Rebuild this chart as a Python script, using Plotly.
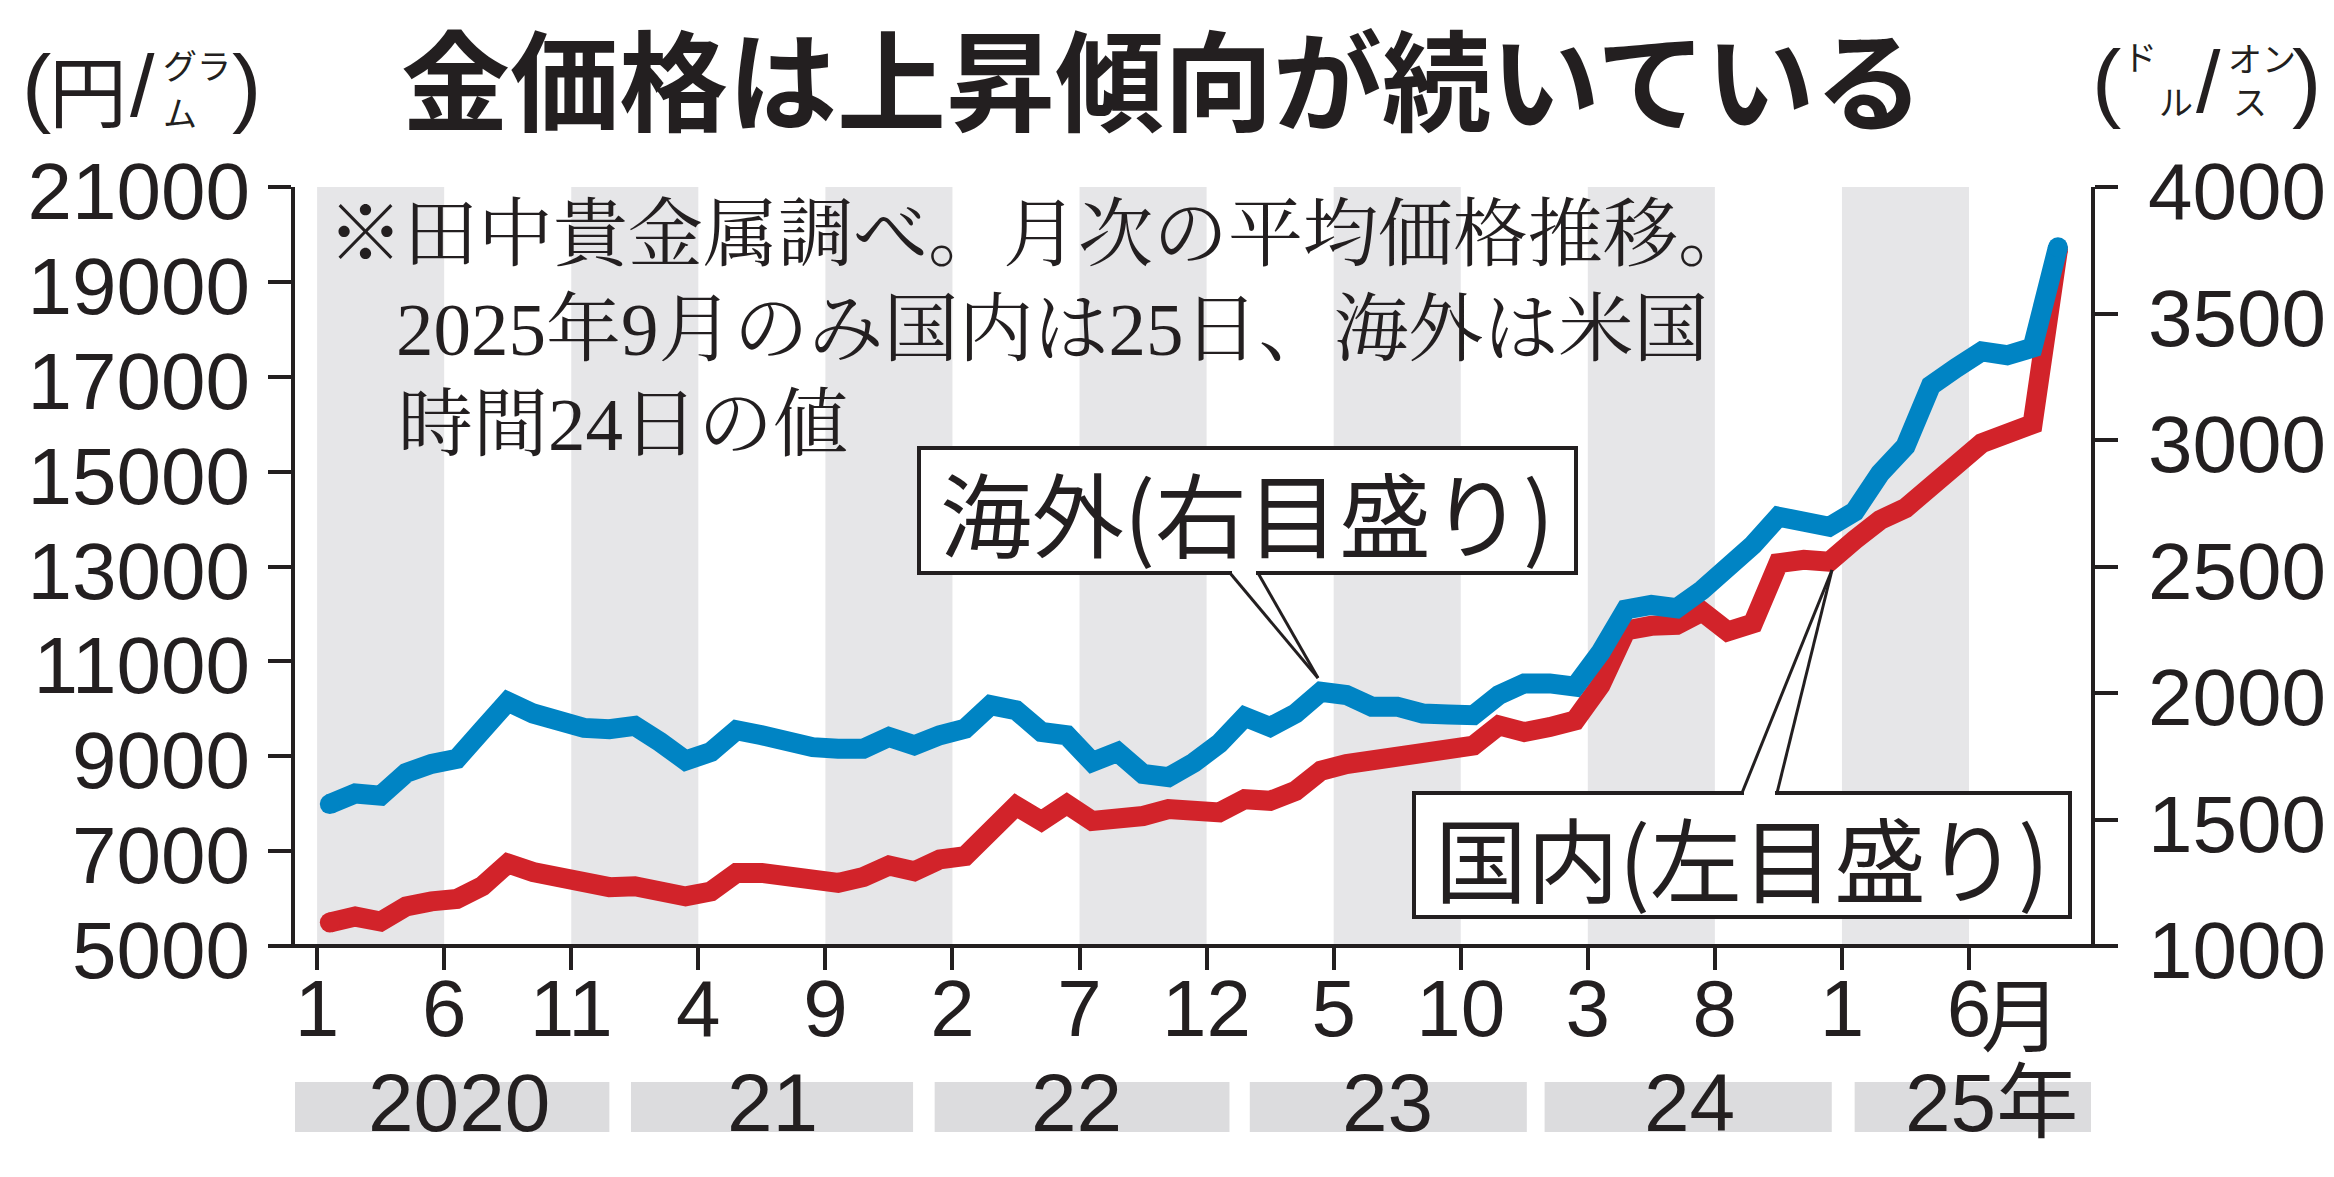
import plotly.graph_objects as go

# 月次平均価格（2020年1月〜2025年9月）
months = [f"{y}-{m:02d}" for y in range(2020, 2026) for m in range(1, 13)][:69]

domestic = [  # 国内 円/グラム
    5495, 5620, 5515, 5835, 5940, 5990, 6260, 6740, 6560, 6470, 6330, 6240,
    6260, 6175, 6045, 6150, 6540, 6540, 6435, 6330, 6330, 6455, 6695, 6575,
    6825, 6895, 7460, 7955, 7635, 7990, 7635, 7670, 7740, 7885, 7900, 7815,
    8095, 8060, 8270, 8695, 8835, 8910, 8910, 9015, 9155, 9225, 9650, 9510,
    9615, 9755, 10500, 11650, 11750, 11770, 12050, 11630, 11800, 13070, 13140, 13100,
    13560, 13980, 14230, 14750, 15140, 15600, 15800, 16000, 19680,
]
overseas = [  # 海外 ドル/オンス
    1561, 1603, 1594, 1684, 1720, 1740, 1853, 1966, 1919, 1893, 1862, 1857,
    1870, 1806, 1733, 1767, 1853, 1833, 1806, 1786, 1780, 1780, 1826, 1793,
    1833, 1859, 1952, 1932, 1846, 1833, 1727, 1767, 1680, 1667, 1725, 1800,
    1906, 1866, 1919, 2005, 1992, 1946, 1946, 1919, 1915, 1912, 1992, 2038,
    2038, 2025, 2160, 2330, 2348, 2335, 2407, 2486, 2585, 2697, 2671, 2657,
    2717, 2868, 2975, 3215, 3285, 3350, 3335, 3365, 3762,
]

month_ticks = ["1", "6", "11", "4", "9", "2", "7", "12", "5", "10", "3", "8", "1", "6"]
year_labels = ["2020", "21", "22", "23", "24", "25年"]
yen_ticks = list(range(5000, 21001, 2000))
usd_ticks = list(range(1000, 4001, 500))

# ページ本文の余白(8px)を差し引いた図のサイズ
OFF = 8
W, H = 2334 - 2 * OFF, 1177 - 2 * OFF - 6
L, R, T, B = 295 - OFF, 2091 - OFF, 187 - OFF, 946 - OFF
INK = "#231f20"
BLUE = "#0084c4"
RED = "#d2232a"
NUM = "Liberation Sans, Arial, Noto Sans CJK JP"
GOTH = "Noto Sans CJK JP"
MIN = "Liberation Serif, Noto Serif CJK JP, Noto Sans CJK JP"


def px(x):
    return (x - OFF - L) / (R - L)


def py(y):
    return (B - (y - OFF)) / (B - T)


x = [i + 0.5 for i in range(len(months))]
caps = [20] + [0] * (len(months) - 2) + [20]

fig = go.Figure()
fig.add_trace(go.Scatter(
    x=x, y=domestic, mode="lines+markers", name="国内",
    line=dict(color=RED, width=20),
    marker=dict(size=caps, color=RED, opacity=1, line=dict(width=0)),
))
fig.add_trace(go.Scatter(
    x=x, y=overseas, mode="lines+markers", name="海外", yaxis="y2",
    line=dict(color=BLUE, width=20),
    marker=dict(size=caps, color=BLUE, opacity=1, line=dict(width=0)),
))

shapes = []
# 縦の網掛け（5カ月ごと）
for k in range(0, 65, 10):
    shapes.append(dict(type="rect", xref="x", yref="paper", x0=k, x1=k + 5, y0=0, y1=1,
                       fillcolor="#e6e6e8", line=dict(width=0), layer="below"))
# 年の帯
year_bars = [(-1.06, 11.5), (12.35, 23.45), (24.3, 35.9), (36.7, 47.6), (48.3, 59.6), (60.5, 70.3)]
for x0, x1 in year_bars:
    shapes.append(dict(type="rect", xref="x", yref="paper", x0=x0, x1=x1,
                       y0=py(1132), y1=py(1082), fillcolor="#dcdcde", line=dict(width=0)))
# 横軸の線
shapes.append(dict(type="line", xref="paper", yref="paper", x0=px(272), x1=px(2118),
                   y0=0, y1=0, line=dict(color=INK, width=4)))


def callout(box, a, b, tip):
    x0, y0, x1, y1 = box
    out = [dict(type="rect", xref="paper", yref="paper", x0=px(x0), x1=px(x1),
                y0=py(y1), y1=py(y0), fillcolor="white", line=dict(color=INK, width=4))]
    edge = y1 if tip[1] > y1 else y0
    out.append(dict(type="line", xref="paper", yref="paper", x0=px(a + 2), x1=px(b - 2),
                    y0=py(edge), y1=py(edge), line=dict(color="white", width=7)))
    for s in (a, b):
        out.append(dict(type="line", xref="paper", yref="paper", x0=px(s), x1=px(tip[0]),
                        y0=py(edge), y1=py(tip[1]), line=dict(color=INK, width=3)))
    return out


shapes += callout((919, 448, 1576, 573), 1230, 1258, (1318, 678))
shapes += callout((1414, 793, 2070, 917), 1742, 1777, (1832, 570))

ann = []


def txt(s, x, y, size, family, xanchor="center", color=INK, weight=None, xref="paper"):
    f = dict(family=family, size=size, color=color)
    if weight:
        f["weight"] = weight
    ann.append(dict(text=s, x=x if xref != "paper" else px(x), y=py(y), xref=xref, yref="paper",
                    xanchor=xanchor, yanchor="middle", showarrow=False, font=f))


txt("金価格は上昇傾向が続いている", 1162, 76, 109, GOTH, weight=700)

txt("※田中貴金属調べ。月次の平均価格推移。", 326, 234, 75, MIN, xanchor="left")
txt("2025年9月のみ国内は25日、海外は米国", 394, 329, 75, MIN, xanchor="left")
txt("時間24日の値", 396, 424, 75, MIN, xanchor="left")

txt("海外(右目盛り)", 1247, 510, 92, GOTH)
txt("国内(左目盛り)", 1742, 855, 92, GOTH)

# 単位
txt("(", 36, 86, 88, NUM)
txt("円", 88, 88, 78, GOTH)
txt("/", 142, 86, 88, NUM)
txt("グラ", 197, 65, 34, GOTH)
txt("ム", 180, 111, 34, GOTH)
txt(")", 246, 86, 88, NUM)

txt("(", 2106, 80, 88, NUM)
txt("ド", 2140, 56, 34, GOTH)
txt("ル", 2176, 100, 34, GOTH)
txt("/", 2208, 82, 88, NUM)
txt("オン", 2262, 57, 34, GOTH)
txt("ス", 2250, 100, 34, GOTH)
txt(")", 2306, 80, 88, NUM)

txt("月", 67.05, 1010, 80, GOTH, xref="x")

year_pos = [5.6, 17.9, 29.9, 42.1, 54.0, 65.9]
for lab, xp in zip(year_labels, year_pos):
    txt(lab, xp, 1102, 82, NUM, xref="x")

axis_common = dict(showgrid=False, zeroline=False, ticks="outside", ticklen=23,
                   tickwidth=4, tickcolor=INK, tickfont=dict(family=NUM, size=80, color=INK))

fig.update_layout(
    width=W, height=H,
    margin=dict(l=L, r=W - R, t=T, b=H - B, autoexpand=False),
    paper_bgcolor="white", plot_bgcolor="white",
    showlegend=False,
    shapes=shapes, annotations=ann,
    xaxis=dict(range=[-0.87, 69.8], tickvals=list(range(0, 66, 5)), ticktext=month_ticks,
               showline=False, ticklabelstandoff=-30, **axis_common),
    yaxis=dict(range=[5000, 21000], tickvals=yen_ticks, ticktext=[str(v) for v in yen_ticks],
               showline=True, linewidth=4, linecolor=INK, ticklabelstandoff=2,
               ticklabelshift=4, **axis_common),
    yaxis2=dict(range=[1000, 4000], tickvals=usd_ticks, ticktext=[str(v) for v in usd_ticks],
                overlaying="y", side="right", showline=True, linewidth=4, linecolor=INK,
                ticklabelstandoff=14, ticklabelshift=4, **axis_common),
)

fig.write_html("out.html")
